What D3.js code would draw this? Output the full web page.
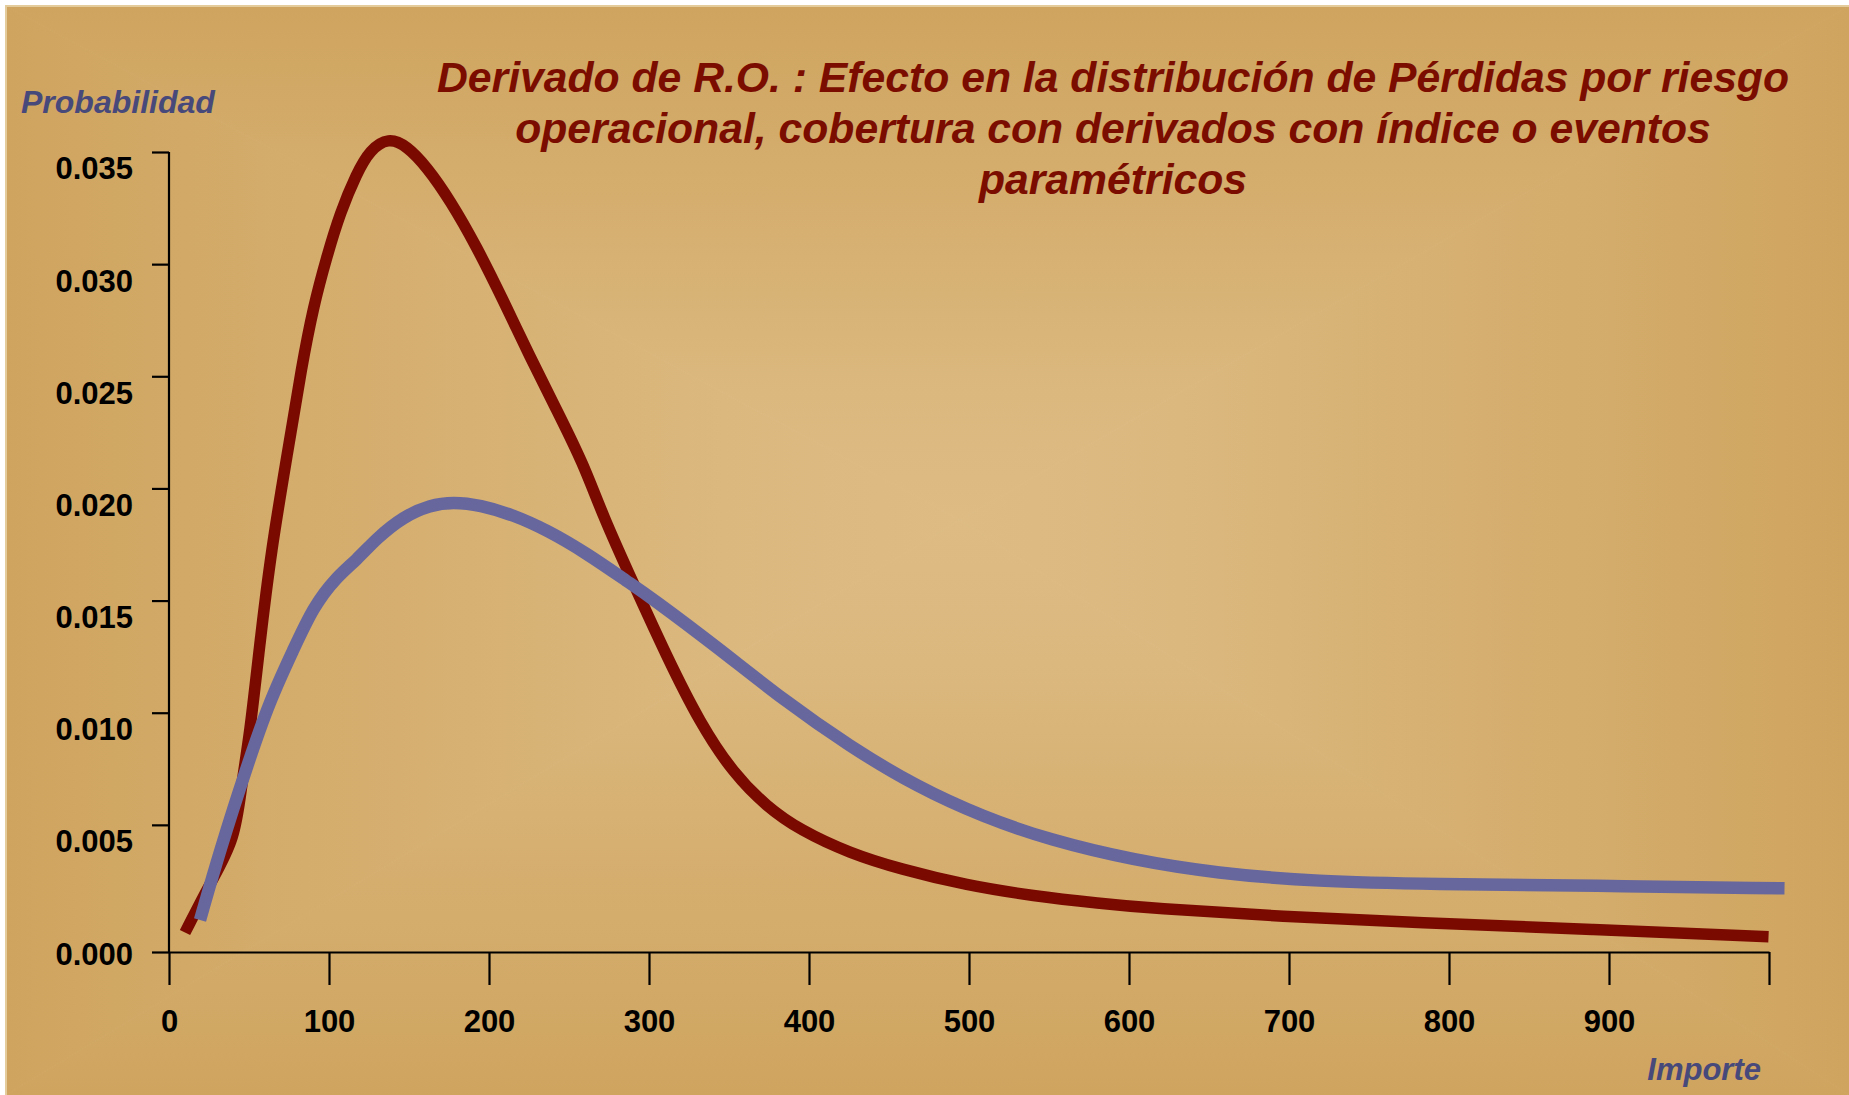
<!DOCTYPE html>
<html>
<head>
<meta charset="utf-8">
<script src="https://cdn.jsdelivr.net/npm/d3@7"></script>
<style>
body{margin:0;background:#fff;}
text{font-family:"Liberation Sans",Arial,sans-serif;}
</style>
</head>
<body>
<script>
const svg_width = 1849, svg_height = 1095;

// curve before hedging (red)
var importeRojo = [10, 25.6, 41.3, 45.4, 50.6, 56.3, 63.8, 74.4, 82.9, 90.2, 98.6, 106.9, 117.3, 125.6, 137.1, 148.6, 161.1, 175.6, 192.3, 208.8, 225.6, 242.3, 258.9, 271.4, 290.2, 311.1, 331.9, 352.7, 373.6, 394.4, 425.6, 456.9, 498.6, 540.2, 581.9, 613.1, 696.4, 779.8, 889.4, 999.7];
var probRojo = [0.0002, 0.00239, 0.00432, 0.00685, 0.0091, 0.0128, 0.01725, 0.02171, 0.02543, 0.0281, 0.03033, 0.03228, 0.03405, 0.03509, 0.03565, 0.03528, 0.03434, 0.03286, 0.03078, 0.0284, 0.02587, 0.0235, 0.02112, 0.01874, 0.01577, 0.0125, 0.00953, 0.0073, 0.00581, 0.00477, 0.00373, 0.00303, 0.0023, 0.00183, 0.0015, 0.00128, 0.00091, 0.00064, 0.00034, 0.00001];

// curve with derivative cover (blue)
var importeAzul = [19.4, 31.9, 48.6, 63.1, 77.7, 90.2, 104.8, 117.3, 129.8, 146.4, 163.1, 177.7, 194.4, 215.2, 236.1, 261.1, 288.1, 300.6, 342.3, 383.9, 425.6, 467.3, 508.9, 550.6, 602.5, 654.8, 717.3, 790, 889.4, 1009.7];
var probAzul = [0.00076, 0.00388, 0.00759, 0.01057, 0.0128, 0.01473, 0.01606, 0.01681, 0.01778, 0.01874, 0.01926, 0.0194, 0.01926, 0.01882, 0.01815, 0.01711, 0.01577, 0.01517, 0.01294, 0.01057, 0.00849, 0.0067, 0.00535, 0.00432, 0.00343, 0.00284, 0.00247, 0.00236, 0.00229, 0.00217];

var xTicks = [0, 100, 200, 300, 400, 500, 600, 700, 800, 900, 1000];
var yTicks = [0, 0.005, 0.010, 0.015, 0.020, 0.025, 0.030, 0.035];
var titleLines = ["Derivado de R.O. : Efecto en la distribución de Pérdidas por riesgo",
                  "operacional, cobertura con derivados con índice o eventos",
                  "paramétricos"];
var yTitle = "Probabilidad", xTitle = "Importe";

var svgContainer = d3.select("body")
						.append("svg")
						.attr("width",svg_width)
						.attr("height",svg_height);

// background: rectangular gradient from centre, built with 4 triangles
var bx0 = 6, by0 = 6, bx1 = svg_width, by1 = svg_height, cx = 960, cy = 520;
var defs = svgContainer.append("defs");
var sides = [
	{id:"gTop", pts:[[bx0,by0],[bx1,by0],[cx,cy]], x1:cx,y1:cy,x2:cx,y2:by0},
	{id:"gBot", pts:[[bx0,by1],[bx1,by1],[cx,cy]], x1:cx,y1:cy,x2:cx,y2:by1},
	{id:"gLeft", pts:[[bx0,by0],[bx0,by1],[cx,cy]], x1:cx,y1:cy,x2:bx0,y2:cy},
	{id:"gRight", pts:[[bx1,by0],[bx1,by1],[cx,cy]], x1:cx,y1:cy,x2:bx1,y2:cy}
];
sides.forEach(function(s){
	var g = defs.append("linearGradient")
				.attr("id",s.id)
				.attr("gradientUnits","userSpaceOnUse")
				.attr("x1",s.x1).attr("y1",s.y1).attr("x2",s.x2).attr("y2",s.y2);
	g.append("stop").attr("offset","0%").attr("stop-color","#ddbb83");
	g.append("stop").attr("offset","25%").attr("stop-color","#dbb87e");
	g.append("stop").attr("offset","100%").attr("stop-color","#cfa45f");
});
var bgGroup = svgContainer.append("g");
bgGroup.selectAll("polygon")
		.data(sides)
		.enter()
		.append("polygon")
		.attr("points",function(d){return d.pts.map(function(p){return p.join(",")}).join(" ")})
		.attr("fill",function(d){return "url(#"+d.id+")"})
		.attr("stroke",function(d){return "url(#"+d.id+")"})
		.attr("stroke-width",1);
bgGroup.append("path")
		.attr("d","M"+bx0+","+by1+"V"+by0+"H"+bx1)
		.attr("fill","none")
		.attr("stroke","#e4cc9c")
		.attr("stroke-width",2);

// scales
var xScale = d3.scaleLinear().domain([0,1000]).range([169,1769]);
var yScale = d3.scaleLinear().domain([0,0.035]).range([937,152]);
const axis_offset = 15, x_tick_len = 33, y_tick_len = 17;
var xAxisY = yScale(0) + axis_offset;

// x axis
var xAxis = d3.axisBottom(xScale)
				.tickValues(xTicks)
				.tickSize(x_tick_len)
				.tickSizeOuter(0)
				.tickPadding(25)
				.tickFormat(function(d){return d === 1000 ? "" : d3.format("d")(d)});
var xAxisG = svgContainer.append("g")
				.attr("transform","translate(0,"+xAxisY+")")
				.call(xAxis);

// y axis
var yAxis = d3.axisLeft(yScale)
				.tickValues(yTicks)
				.tickSize(y_tick_len)
				.tickSizeOuter(0)
				.tickPadding(19)
				.tickFormat(d3.format(".3f"));
var yAxisG = svgContainer.append("g")
				.attr("transform","translate("+xScale(0)+",0)")
				.call(yAxis);
yAxisG.select(".domain").attr("d","M0,"+yScale(0.035)+"V"+xAxisY);
yAxisG.selectAll(".tick text").attr("transform","translate(0,17)");
// the 0.000 tick sits on the x axis line
yAxisG.selectAll(".tick").filter(function(d){return d === 0})
		.select("line").attr("y1",axis_offset).attr("y2",axis_offset);
yAxisG.selectAll(".tick").filter(function(d){return d === 0})
		.select("text").attr("transform","translate(0,"+(axis_offset+3)+")");

svgContainer.selectAll(".tick line, .domain")
		.attr("stroke","#000")
		.attr("stroke-width",2.2);
svgContainer.selectAll(".tick text")
		.attr("fill","#000")
		.attr("font-size","31px")
		.attr("font-weight","bold")
		.style("font-family","'Liberation Sans', Arial, sans-serif");

// curves
var lineFunction = d3.line()
					.x(function(d){return xScale(d[0])})
					.y(function(d){return yScale(d[1])})
					.curve(d3.curveBasis);
var rojo = importeRojo.map(function(v,i){return [v, probRojo[i]]});
var azul = importeAzul.map(function(v,i){return [v, probAzul[i]]});

svgContainer.append("path")
		.attr("d",lineFunction(rojo))
		.attr("fill","none")
		.attr("stroke","#7a0a00")
		.attr("stroke-width",11.5)
		.attr("stroke-linecap","butt")
		.attr("stroke-linejoin","round");
svgContainer.append("path")
		.attr("d",lineFunction(azul))
		.attr("fill","none")
		.attr("stroke","#67679d")
		.attr("stroke-width",12.5)
		.attr("stroke-linecap","butt")
		.attr("stroke-linejoin","round");

// titles
var titleGroup = svgContainer.append("g");
titleGroup.selectAll("text")
		.data(titleLines)
		.enter()
		.append("text")
		.attr("x",1113)
		.attr("y",function(d,i){return 92 + i*51})
		.attr("text-anchor","middle")
		.attr("font-size","42.7px")
		.attr("font-weight","bold")
		.attr("font-style","italic")
		.attr("fill","#7b0c00")
		.text(function(d){return d});

svgContainer.append("text")
		.attr("x",21)
		.attr("y",113)
		.attr("font-size","32px")
		.attr("font-weight","bold")
		.attr("font-style","italic")
		.attr("fill","#48497b")
		.text(yTitle);
svgContainer.append("text")
		.attr("x",1761)
		.attr("y",1080)
		.attr("text-anchor","end")
		.attr("font-size","31px")
		.attr("font-weight","bold")
		.attr("font-style","italic")
		.attr("fill","#48497b")
		.text(xTitle);
</script>
</body>
</html>
